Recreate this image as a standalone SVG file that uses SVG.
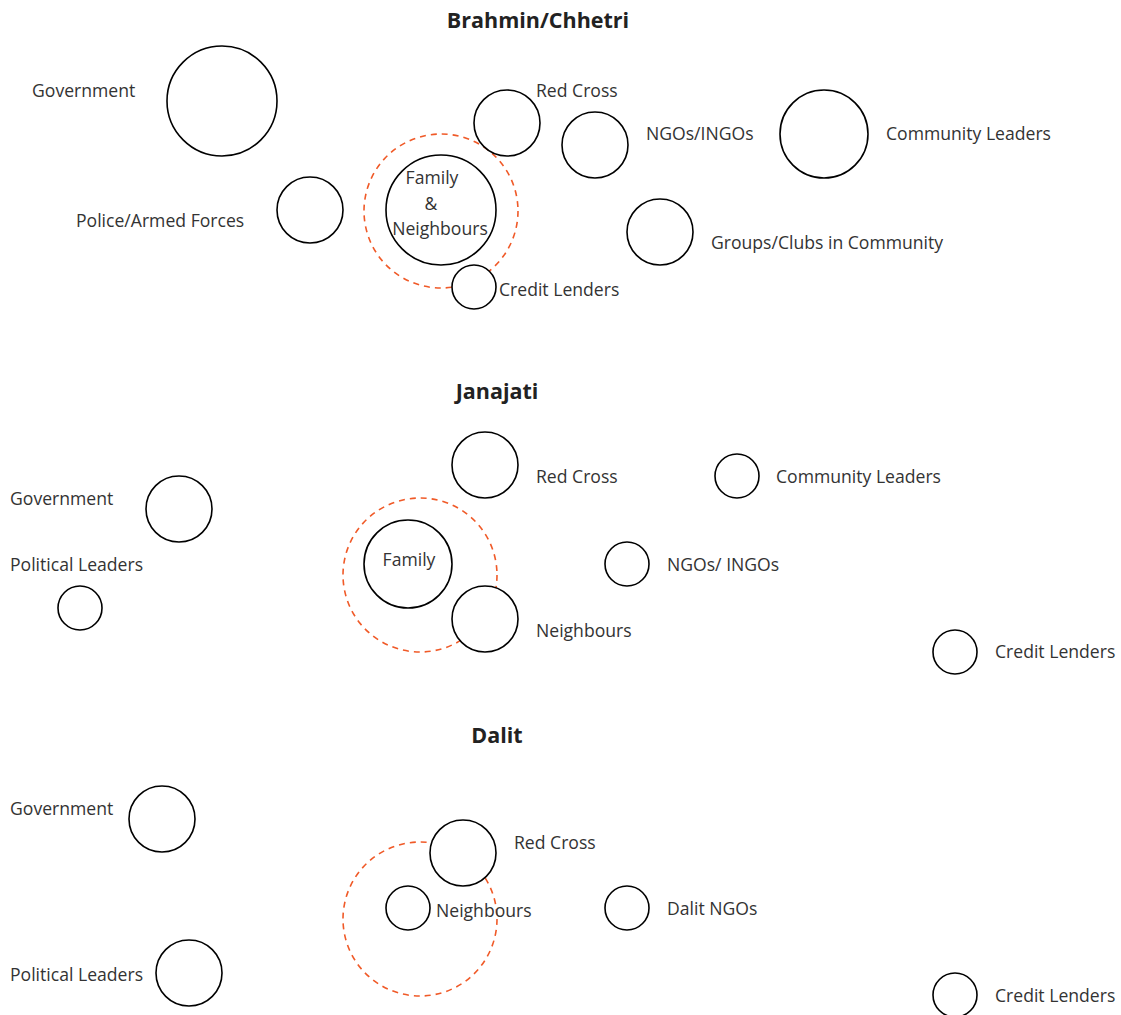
<svg xmlns="http://www.w3.org/2000/svg" width="1121" height="1015" viewBox="0 0 1121 1015">
<style>
.bg{fill:#fff}
.n{fill:#fff;stroke:#000;stroke-width:1.6}
.d{fill:none;stroke:#f05a28;stroke-width:1.6;stroke-dasharray:6 5}
.t{font-family:"Open Sans","Noto Sans",sans-serif;font-size:17.6px;fill:#333}
.h{font-family:"Open Sans","Noto Sans",sans-serif;font-size:21.5px;font-weight:bold;fill:#222;text-anchor:middle}
.m{text-anchor:middle}
</style>
<rect class="bg" width="1121" height="1015"/>
<g id="connectors"></g>
<!-- Brahmin/Chhetri -->
<text class="h" x="538" y="28">Brahmin/Chhetri</text>
<g id="bc-dashed"><circle class="d" cx="441" cy="211" r="77"/></g>
<g id="bc-government"><circle class="n" cx="222" cy="101" r="55"/><text class="t" x="32" y="97">Government</text></g>
<g id="bc-redcross"><circle class="n" cx="507" cy="123" r="33"/><text class="t" x="536" y="97">Red Cross</text></g>
<g id="bc-ngos"><circle class="n" cx="595" cy="145" r="33"/><text class="t" x="646" y="140">NGOs/INGOs</text></g>
<g id="bc-community"><circle class="n" cx="824" cy="134" r="44"/><text class="t" x="886" y="140">Community Leaders</text></g>
<g id="bc-police"><circle class="n" cx="310" cy="210" r="33"/><text class="t" x="76" y="227">Police/Armed Forces</text></g>
<g id="bc-family"><circle class="n" cx="441" cy="210" r="55"/><text class="t m" x="432" y="184">Family</text><text class="t m" x="431" y="210">&amp;</text><text class="t m" x="440" y="235">Neighbours</text></g>
<g id="bc-credit"><circle class="n" cx="474" cy="287" r="22"/><text class="t" x="499" y="296">Credit Lenders</text></g>
<g id="bc-groups"><circle class="n" cx="660" cy="232" r="33"/><text class="t" x="711" y="249">Groups/Clubs in Community</text></g>
<!-- Janajati -->
<text class="h" x="497" y="399">Janajati</text>
<g id="jj-dashed"><circle class="d" cx="420" cy="575" r="77"/></g>
<g id="jj-redcross"><circle class="n" cx="485" cy="465" r="33"/><text class="t" x="536" y="483">Red Cross</text></g>
<g id="jj-community"><circle class="n" cx="737" cy="476" r="22"/><text class="t" x="776" y="483">Community Leaders</text></g>
<g id="jj-government"><circle class="n" cx="179" cy="509" r="33"/><text class="t" x="10" y="505">Government</text></g>
<g id="jj-political"><circle class="n" cx="80" cy="608" r="22"/><text class="t" x="10" y="571">Political Leaders</text></g>
<g id="jj-family"><circle class="n" cx="408" cy="564" r="44"/><text class="t m" x="409" y="566">Family</text></g>
<g id="jj-neighbours"><circle class="n" cx="485" cy="619" r="33"/><text class="t" x="536" y="637">Neighbours</text></g>
<g id="jj-ngos"><circle class="n" cx="627" cy="564" r="22"/><text class="t" x="667" y="571">NGOs/ INGOs</text></g>
<g id="jj-credit"><circle class="n" cx="955" cy="652" r="22"/><text class="t" x="995" y="658">Credit Lenders</text></g>
<!-- Dalit -->
<text class="h" x="497" y="743">Dalit</text>
<g id="da-dashed"><circle class="d" cx="420" cy="919" r="77"/></g>
<g id="da-government"><circle class="n" cx="162" cy="819" r="33"/><text class="t" x="10" y="815">Government</text></g>
<g id="da-redcross"><circle class="n" cx="463" cy="853" r="33"/><text class="t" x="514" y="849">Red Cross</text></g>
<g id="da-neighbours"><circle class="n" cx="408" cy="908" r="22"/><text class="t" x="436" y="917">Neighbours</text></g>
<g id="da-ngos"><circle class="n" cx="627" cy="908" r="22"/><text class="t" x="667" y="915">Dalit NGOs</text></g>
<g id="da-political"><circle class="n" cx="189" cy="973" r="33"/><text class="t" x="10" y="981">Political Leaders</text></g>
<g id="da-credit"><circle class="n" cx="955" cy="995" r="22"/><text class="t" x="995" y="1002">Credit Lenders</text></g>
</svg>
